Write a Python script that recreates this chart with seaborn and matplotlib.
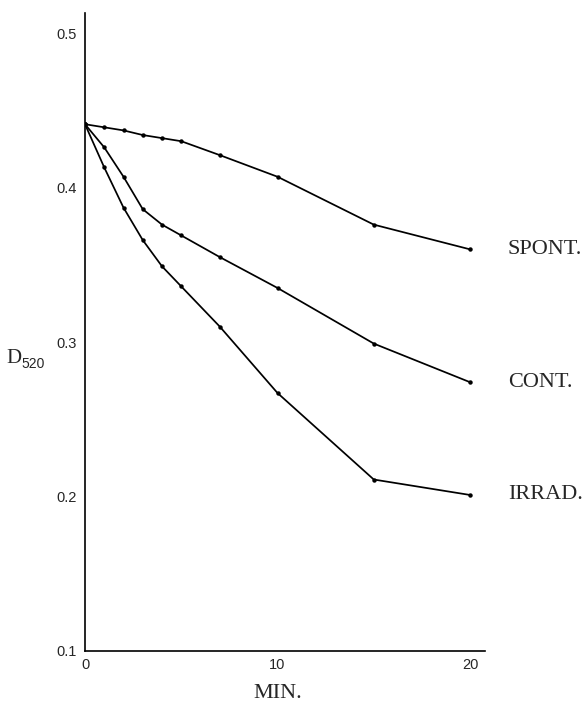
import matplotlib
matplotlib.use("Agg")
import matplotlib.pyplot as plt
import seaborn as sns
import pandas as pd

# Optical density at 520 nm over time for three treatments
minutes = [0, 1, 2, 3, 4, 5, 7, 10, 15, 20]
spont = [0.441, 0.439, 0.437, 0.434, 0.432, 0.430, 0.421, 0.407, 0.376, 0.360]
cont = [0.441, 0.426, 0.407, 0.386, 0.376, 0.369, 0.355, 0.335, 0.299, 0.274]
irrad = [0.441, 0.413, 0.387, 0.366, 0.349, 0.336, 0.310, 0.267, 0.211, 0.201]
series_names = ["SPONT.", "CONT.", "IRRAD."]

x_ticks = [0, 10, 20]
x_ticklabels = ["0", "10", "20"]
y_ticks = [0.1, 0.2, 0.3, 0.4, 0.5]
y_ticklabels = ["0.1", "0.2", "0.3", "0.4", "0.5"]

sns.set_style("white")
plt.rcParams["font.family"] = ["Liberation Sans", "DejaVu Sans"]

df = pd.DataFrame({
    "min": minutes * 3,
    "D": spont + cont + irrad,
    "series": [n for n, v in zip(series_names, [spont, cont, irrad]) for _ in v],
})

W, H = 587, 703
fig = plt.figure(figsize=(W / 100, H / 100), dpi=100)
ax = fig.add_axes([85 / W, 1 - 651 / H, (484.5 - 85) / W, (651 - 13) / H])

sns.lineplot(data=df, x="min", y="D", hue="series", palette=["black"] * 3,
             marker="o", markersize=3.2, markeredgewidth=0, linewidth=1.25,
             legend=False, sort=False, ax=ax)

ax.set_xlim(0, 20.75)
ax.set_ylim(0.1, 0.513)
ax.set_xticks(x_ticks)
ax.set_xticklabels(x_ticklabels, fontsize=10.5)
ax.set_yticks(y_ticks)
ax.set_yticklabels(y_ticklabels, fontsize=10.5)
ax.tick_params(axis="y", direction="out", length=5, width=1.0, pad=1, color="black")
ax.tick_params(axis="x", direction="in", length=5, width=1.0, pad=5, color="black")

for side in ["top", "right"]:
    ax.spines[side].set_visible(False)
for side in ["left", "bottom"]:
    ax.spines[side].set_color("black")
    ax.spines[side].set_linewidth(1.2)

ax.set_xlabel("MIN.", fontsize=16, family="Liberation Serif")
ax.xaxis.set_label_coords(10 / 20.75, -0.052)
ax.set_ylabel("")

# Curve names to the right of each end point
ends = [spont[-1], cont[-1], irrad[-1]]
for name, yv in zip(series_names, ends):
    ax.text(21.97, yv, name, ha="left", va="center", fontsize=16,
            family="Liberation Serif", clip_on=False)

# Y axis label D with subscript 520
fig.text(6 / W, 1 - 363 / H, "D", fontsize=15, family="Liberation Serif",
         ha="left", va="baseline")
fig.text(21 / W, 1 - 368 / H, "520", fontsize=10, ha="left", va="baseline")

fig.savefig("out.png", dpi=100)
